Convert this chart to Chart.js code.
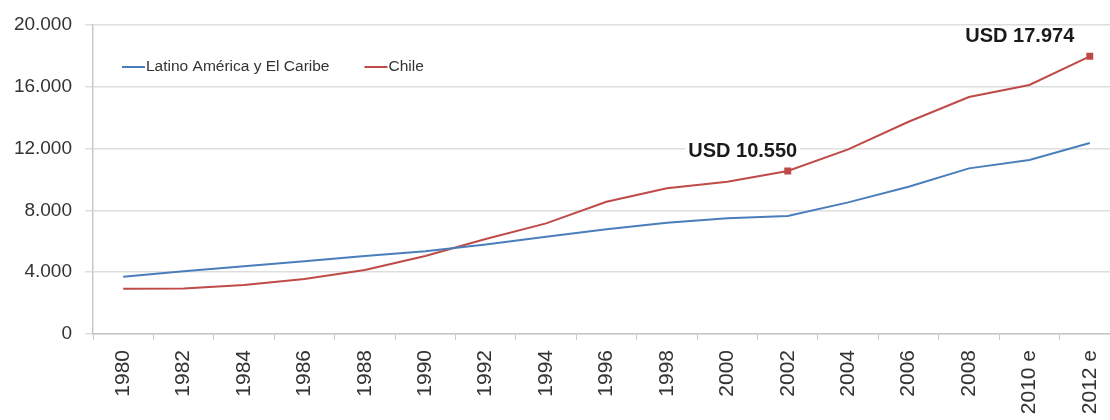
<!DOCTYPE html>
<html>
<head>
<meta charset="utf-8">
<script src="https://cdn.jsdelivr.net/npm/chart.js@4"></script>
<style>
  html, body { margin: 0; padding: 0; background: #fff; overflow: hidden; }
  #frame { width: 1110px; height: 420px; overflow: hidden; }
  #box { position: relative; width: 1130px; height: 420px; }
</style>
</head>
<body>
<div id="frame"><div id="box"><canvas id="pibChart"></canvas></div></div>
<script>
// PIB per cápita (USD)
const years = ['1980', '1982', '1984', '1986', '1988', '1990', '1992', '1994', '1996',
               '1998', '2000', '2002', '2004', '2006', '2008', '2010 e', '2012 e'];
const latam = [3700, 4060, 4390, 4710, 5050, 5350, 5800, 6300, 6780,
               7200, 7490, 7640, 8520, 9530, 10720, 11260, 12360];
const chile = [2930, 2950, 3170, 3560, 4140, 5050, 6150, 7160, 8560,
               9430, 9860, 10550, 11950, 13740, 15340, 16120, 17974];
const markedYears = ['2002', '2012 e'];
const yTicks = [0, 4000, 8000, 12000, 16000, 20000];

const BLUE = '#4a7ebb';
const RED = '#be4b48';

function fmt(n) {
    return n.toString().replace(/\B(?=(\d{3})+(?!\d))/g, '.');
}

// legend drawn inside the plot, top left
const innerLegend = {
    id: 'innerLegend',
    afterDraw(chart) {
        const ctx = chart.ctx;
        const a = chart.chartArea;
        const y = a.top + 42;
        ctx.save();
        ctx.font = '15.5px "Liberation Sans", Arial, sans-serif';
        ctx.textBaseline = 'middle';
        ctx.fillStyle = '#333';
        let x = a.left + 29;
        chart.data.datasets.forEach(ds => {
            ctx.strokeStyle = ds.borderColor;
            ctx.lineWidth = 2;
            ctx.beginPath();
            ctx.moveTo(x, y);
            ctx.lineTo(x + 23, y);
            ctx.stroke();
            ctx.fillText(ds.label, x + 24, y);
            x += 24 + ctx.measureText(ds.label).width + 35;
        });
        ctx.restore();
    }
};

// "USD ..." call-outs next to the marked Chile points
const callouts = {
    id: 'callouts',
    afterDatasetsDraw(chart) {
        const ctx = chart.ctx;
        const xs = chart.scales.x, ys = chart.scales.y;
        ctx.save();
        ctx.font = 'bold 20px "Liberation Sans", Arial, sans-serif';
        ctx.textAlign = 'center';
        ctx.textBaseline = 'middle';
        markedYears.forEach((yr, k) => {
            const i = years.indexOf(yr);
            const px = xs.getPixelForValue(i);
            const py = ys.getPixelForValue(chile[i]);
            const txt = 'USD ' + fmt(chile[i]);
            const cx = px - (k === 0 ? 45 : 70);
            const cy = py - 20;
            const w = ctx.measureText(txt).width;
            ctx.fillStyle = '#fff';
            ctx.fillRect(cx - w / 2 - 3, cy - 10, w + 6, 20);
            ctx.fillStyle = '#1a1a1a';
            ctx.fillText(txt, cx, cy);
        });
        ctx.restore();
    }
};

const ctx = document.getElementById('pibChart').getContext('2d');
new Chart(ctx, {
    type: 'line',
    data: {
        labels: years,
        datasets: [
            {
                label: 'Latino América y El Caribe',
                data: latam,
                borderColor: BLUE,
                backgroundColor: BLUE,
                borderWidth: 2,
                pointRadius: 0,
                tension: 0
            },
            {
                label: 'Chile',
                data: chile,
                borderColor: RED,
                backgroundColor: RED,
                borderWidth: 2,
                pointStyle: 'rect',
                pointRadius: c => markedYears.includes(years[c.dataIndex]) ? 3.5 : 0,
                tension: 0
            }
        ]
    },
    options: {
        responsive: true,
        maintainAspectRatio: false,
        animation: false,
        layout: { padding: { top: 25, right: 10, left: 0, bottom: 0 } },
        plugins: {
            legend: { display: false },
            tooltip: { enabled: false }
        },
        scales: {
            x: {
                offset: true,
                grid: {
                    offset: true,
                    drawOnChartArea: false,
                    tickLength: 6,
                    color: '#c8c8c8'
                },
                border: { color: '#c8c8c8', width: 1.5 },
                ticks: {
                    autoSkip: false,
                    minRotation: 90,
                    maxRotation: 90,
                    padding: 10,
                    color: '#333',
                    font: { family: '"Liberation Sans", Arial, sans-serif', size: 21 }
                },
                afterFit: s => { s.height = 86; }
            },
            y: {
                min: 0,
                max: 20000,
                afterBuildTicks: s => { s.ticks = yTicks.map(v => ({ value: v })); },
                grid: { color: '#dedede', tickLength: 8, lineWidth: 1.5 },
                border: { color: '#c8c8c8', width: 1.5 },
                ticks: {
                    padding: 13,
                    color: '#333',
                    font: { family: '"Liberation Sans", Arial, sans-serif', size: 19 },
                    callback: v => fmt(v)
                },
                afterFit: s => { s.width = 93; }
            }
        }
    },
    plugins: [innerLegend, callouts]
});
</script>
</body>
</html>
